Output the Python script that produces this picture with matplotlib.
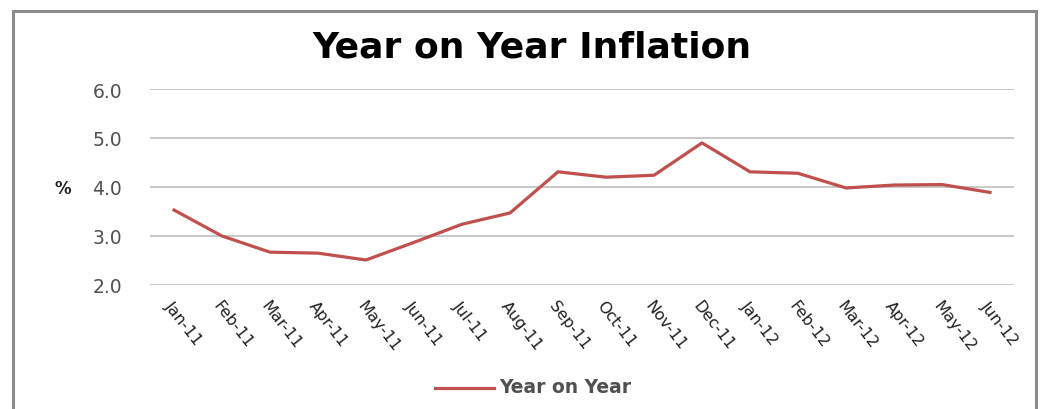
import matplotlib.pyplot as plt
from matplotlib.patches import Rectangle
from matplotlib.lines import Line2D

# monthly year-on-year inflation, %
months = ["Jan-11", "Feb-11", "Mar-11", "Apr-11", "May-11", "Jun-11",
          "Jul-11", "Aug-11", "Sep-11", "Oct-11", "Nov-11", "Dec-11",
          "Jan-12", "Feb-12", "Mar-12", "Apr-12", "May-12", "Jun-12"]
yoy = [3.53, 3.00, 2.67, 2.65, 2.51, 2.87,
       3.24, 3.47, 4.31, 4.20, 4.24, 4.90,
       4.31, 4.28, 3.98, 4.04, 4.05, 3.89]
y_ticks = [2.0, 3.0, 4.0, 5.0, 6.0]

line_color = "#C0504D"

fig = plt.figure(figsize=(10.42, 4.1), dpi=100)
fig.patch.set_facecolor("white")

# chart frame
fig.patches.append(Rectangle((13 / 1042, -0.05), 1023 / 1042, 1.05 - 12 / 410,
                             transform=fig.transFigure, fill=False,
                             edgecolor="#8C8C8C", linewidth=2.2))

ax = fig.add_axes([150 / 1042, 1 - 286 / 410, 864 / 1042, 196 / 410])
x = list(range(len(months)))
ax.plot(x, yoy, color=line_color, linewidth=2.3, solid_joinstyle="round")

ax.set_xlim(-0.5, len(months) - 0.5)
ax.set_ylim(2.0, 6.0)
ax.set_yticks(y_ticks)
ax.set_yticklabels([f"{v:.1f}" for v in y_ticks], fontsize=13.5, color="#505050")
ax.yaxis.grid(True, color="#C8C8C8", linewidth=1.4)
ax.set_axisbelow(True)
ax.tick_params(axis="y", length=0, pad=20)
ax.tick_params(axis="x", length=0, pad=9)
ax.set_xticks(x)
ax.set_xticklabels(months, rotation=-52, ha="left", va="top",
                   rotation_mode="anchor", fontsize=11.5, color="#202020")
for s in ax.spines.values():
    s.set_visible(False)

fig.text(63 / 1042, 1 - 189 / 410, "%", fontsize=12, fontweight="bold",
         color="#202020", ha="center", va="center")

fig.text(532 / 1042, 1 - 47 / 410, "Year on Year Inflation", fontsize=26,
         fontweight="bold", ha="center", va="center", color="black")

# legend
fig.lines.append(Line2D([435 / 1042, 494 / 1042], [1 - 389 / 410] * 2,
                        transform=fig.transFigure, color=line_color, linewidth=2.3))
fig.text(499 / 1042, 1 - 388 / 410, "Year on Year", fontsize=13.5,
         fontweight="bold", color="#505050", ha="left", va="center")

fig.savefig("out.png", dpi=100, facecolor="white")
